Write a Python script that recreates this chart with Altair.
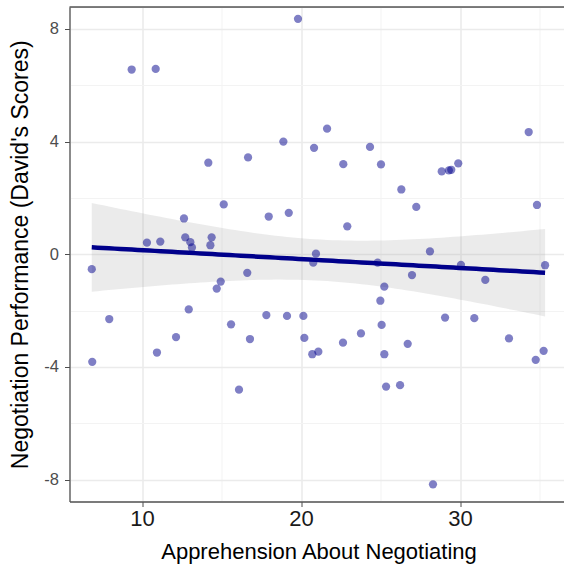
import altair as alt
import numpy as np
import pandas as pd

# Apprehension scores and David's negotiation performance scores
apprehension = [
    9.35, 10.86, 19.81, 18.89, 14.17, 16.67, 20.82, 21.64, 15.14, 12.64,
    17.97, 19.23, 10.31, 11.15, 12.72, 13.04, 13.14, 14.38, 14.30, 22.66,
    24.34, 25.03, 26.31, 27.25, 22.91, 28.85, 29.30, 29.45, 29.89, 34.32,
    34.84, 20.94, 28.11, 20.77, 24.82, 30.06, 35.35, 26.98, 31.59, 25.24,
    24.99, 20.15, 29.06, 30.90, 25.07, 23.77, 20.21, 22.64, 26.71, 33.08,
    20.71, 21.09, 25.24, 34.76, 35.26, 25.35, 26.23, 28.30, 6.84, 7.94,
    6.87, 10.94, 12.14, 12.94, 14.70, 14.95, 16.62, 15.60, 16.79, 16.10,
    17.82, 19.12,
]
performance = [
    6.56, 6.58, 8.36, 4.00, 3.25, 3.44, 3.78, 4.46, 1.77, 1.27,
    1.34, 1.47, 0.41, 0.45, 0.60, 0.43, 0.24, 0.60, 0.32, 3.20,
    3.81, 3.19, 2.30, 1.68, 0.99, 2.94, 2.98, 3.00, 3.23, 4.34,
    1.75, 0.02, 0.10, -0.30, -0.30, -0.38, -0.39, -0.74, -0.91, -1.15,
    -1.65, -2.19, -2.25, -2.27, -2.51, -2.81, -2.97, -3.14, -3.18, -2.99,
    -3.55, -3.46, -3.55, -3.75, -3.43, -4.70, -4.65, -8.17, -0.53, -2.30,
    -3.82, -3.49, -2.94, -1.96, -1.22, -0.97, -0.66, -2.49, -3.01, -4.81,
    -2.16, -2.19,
]

x_ticks = [10, 15, 20, 25, 30, 35]
y_ticks = [-8, -6, -4, -2, 0, 2, 4, 6, 8]

points = pd.DataFrame({"x": apprehension, "y": performance})

# Ordinary least squares fit with a 95% confidence band (80 evaluation points)
xs = np.asarray(apprehension)
ys = np.asarray(performance)
n = len(xs)
x_bar = xs.mean()
sxx = ((xs - x_bar) ** 2).sum()
slope = ((xs - x_bar) * (ys - ys.mean())).sum() / sxx
intercept = ys.mean() - slope * x_bar
resid = ys - (intercept + slope * xs)
s = np.sqrt((resid ** 2).sum() / (n - 2))
t_crit = 1.994  # t quantile 0.975 for df = n - 2
grid = np.linspace(xs.min(), xs.max(), 80)
fit = intercept + slope * grid
se = s * np.sqrt(1.0 / n + (grid - x_bar) ** 2 / sxx)
smooth = pd.DataFrame({
    "x": grid, "fit": fit,
    "lo": fit - t_crit * se, "hi": fit + t_crit * se,
})

FONT = "Liberation Sans"

x_scale = alt.Scale(domain=[5.44, 36.54], nice=False, zero=False)
y_scale = alt.Scale(domain=[-8.78, 8.78], nice=False, zero=False)

x_axis = alt.Axis(
    values=x_ticks,
    labelExpr="datum.value % 10 === 0 ? '' + datum.value : ''",
    title="Apprehension About Negotiating",
    titleFont=FONT, titleFontSize=22, titleFontWeight="normal", titleColor="#000000",
    titleBaseline="alphabetic", titleY=57, titleX=249,
    labelFont=FONT, labelFontSize=22, labelColor="#1a1a1a", labelPadding=2,
    tickSize=5, tickColor="#4d4d4d",
    tickOpacity={"condition": {"test": "datum.value % 10 === 0", "value": 1}, "value": 0},
    domainColor="#555555", domainWidth=1.3,
    grid=True,
    gridColor={"condition": {"test": "datum.value % 10 === 0", "value": "#EBEBEB"}, "value": "#F3F3F3"},
    gridWidth={"condition": {"test": "datum.value % 10 === 0", "value": 1.6}, "value": 1},
)

y_axis = alt.Axis(
    values=y_ticks,
    labelExpr="datum.value % 4 === 0 ? '' + datum.value : ''",
    title="Negotiation Performance (David's Scores)",
    titleFont=FONT, titleFontSize=23, titleFontWeight="normal", titleColor="#000000",
    titleBaseline="bottom", titleX=-37,
    labelFont=FONT, labelFontSize=16.5, labelColor="#4d4d4d", labelPadding=6,
    tickSize=5, tickColor="#4d4d4d",
    tickOpacity={"condition": {"test": "datum.value % 4 === 0", "value": 1}, "value": 0},
    domainColor="#555555", domainWidth=1.3,
    grid=True,
    gridColor={"condition": {"test": "datum.value % 4 === 0", "value": "#EBEBEB"}, "value": "#F3F3F3"},
    gridWidth={"condition": {"test": "datum.value % 4 === 0", "value": 1.6}, "value": 1},
)

pts = alt.Chart(points).mark_circle(
    size=68, color="#00008B", opacity=0.5
).encode(
    x=alt.X("x:Q", scale=x_scale, axis=x_axis),
    y=alt.Y("y:Q", scale=y_scale, axis=y_axis),
)

band = alt.Chart(smooth).mark_area(color="#999999", opacity=0.2).encode(
    x=alt.X("x:Q", scale=x_scale),
    y=alt.Y("lo:Q", scale=y_scale),
    y2="hi:Q",
)

line = alt.Chart(smooth).mark_line(color="#00008B", strokeWidth=4.5).encode(
    x=alt.X("x:Q", scale=x_scale),
    y=alt.Y("fit:Q", scale=y_scale),
)

# top edge of the panel
top_edge = alt.Chart(pd.DataFrame({"k": [0]})).mark_rule(
    color="#555555", strokeWidth=1.3
).encode(y=alt.value(0), x=alt.value(0), x2=alt.value(494.5))

chart = alt.layer(band, pts, line, top_edge).properties(
    width=494.5, height=494.5,
    padding={"left": 69.5, "top": 7, "right": 0, "bottom": 63.5},
    autosize=alt.AutoSizeParams(type="none"),
).configure_view(stroke=None).configure(background="white")

chart.save("out.html", embed_options={"renderer": "svg", "actions": False})
